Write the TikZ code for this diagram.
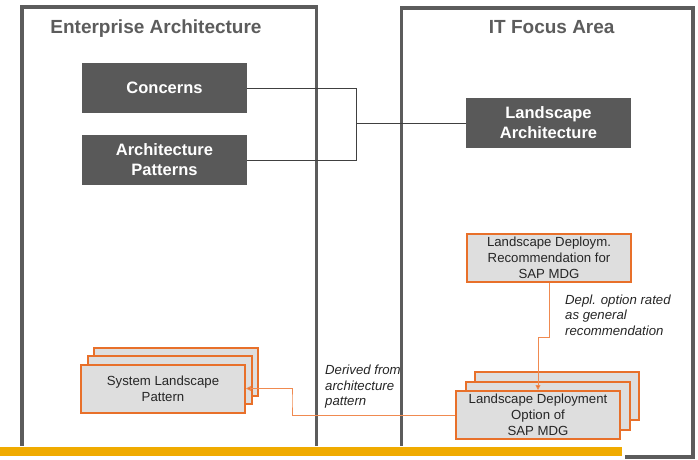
\documentclass[tikz,border=0pt]{standalone}
\usepackage{fontspec}
\setmainfont{Liberation Sans}
\usetikzlibrary{arrows.meta}
\definecolor{frame}{HTML}{5C5C5C}
\definecolor{darkbox}{HTML}{595959}
\definecolor{sapor}{HTML}{E8702A}
\definecolor{orline}{HTML}{F08A50}
\definecolor{lightfill}{HTML}{DEDEDE}
\definecolor{sapyellow}{HTML}{F0AB00}
\definecolor{txt}{HTML}{262626}
\tikzset{
  framebox/.style={draw=frame, line width=3.5pt},
  frametitle/.style={font=\fontsize{19}{23}\selectfont\bfseries, text=frame, inner sep=0pt, anchor=base},
  darkbox/.style={fill=darkbox, draw=none, minimum width=165pt, minimum height=50pt, inner sep=0pt,
    font=\fontsize{16.5}{20}\selectfont\bfseries, text=white, align=center},
  orbox/.style={fill=lightfill, draw=sapor, line width=2pt, minimum width=164pt, minimum height=48pt, inner sep=0pt,
    font=\fontsize{13.2}{16}\selectfont, text=txt, align=center},
  grayconn/.style={draw=black!75, line width=0.8pt},
  orconn/.style={draw=orline, line width=0.8pt},
  lbl/.style={font=\fontsize{13.2}{15.3}\selectfont\itshape, text=txt, align=left, inner sep=0pt, anchor=west},
}
\begin{document}
\begin{tikzpicture}[x=1pt,y=-1pt]
\useasboundingbox (0,0) rectangle (698,459);
% frames
\draw[framebox] (22,7) rectangle (316.7,457);
\draw[framebox] (401.5,8) rectangle (693,457);
\node[frametitle] (eatitle) at (156,33.5) {Enterprise Architecture};
\node[frametitle] (ittitle) at (551.7,33.5) {IT Focus Area};
% dark boxes
\node[darkbox] (C) at (164.5,88) {Concerns};
\node[darkbox] (AP) at (164.5,160) {Architecture\\Patterns};
\node[darkbox] (LA) at (548.5,123) {Landscape\\Architecture};
\coordinate (J) at (356.7,123);
\draw[grayconn] (C.east) -| (J) |- (AP.east);
\draw[grayconn] (J) -- (LA.west);
% recommendation
\node[orbox] (Rec) at (549,258) {Landscape Deploym.\\Recommendation for\\SAP MDG};
% right stack
\node[orbox] (RB) at (557,396) {};
\node[orbox] (RM) at (547.5,405.5) {};
\node[orbox] (RF) at (538,415) {Landscape Deployment\\Option of\\SAP MDG};
% left stack
\node[orbox] (LB) at (176,371.5) {};
\node[orbox] (LM) at (169.5,380) {};
\node[orbox] (LF) at (163,388.5) {System Landscape\\Pattern};
% orange connectors
\draw[orconn, -{Triangle[length=5pt,width=5pt,fill=sapor]}] (Rec.south) -- ++(0,54) -| (RF.north);
\coordinate (K) at (292,400);
\draw[orconn, -{Triangle[length=5pt,width=5pt,fill=sapor]}] (RF.west) -| (K) |- (LF.east);
% labels
\node[lbl] (lblrec) at (565,315) {Depl. option rated\\as general\\recommendation};
\node[lbl] (lblder) at (325,386.7) {Derived from\\architecture\\pattern};
% bottom bar
\fill[white] (0,446) rectangle (625,459);
\fill[sapyellow] (0,447) rectangle (622,456);
\end{tikzpicture}
\end{document}
